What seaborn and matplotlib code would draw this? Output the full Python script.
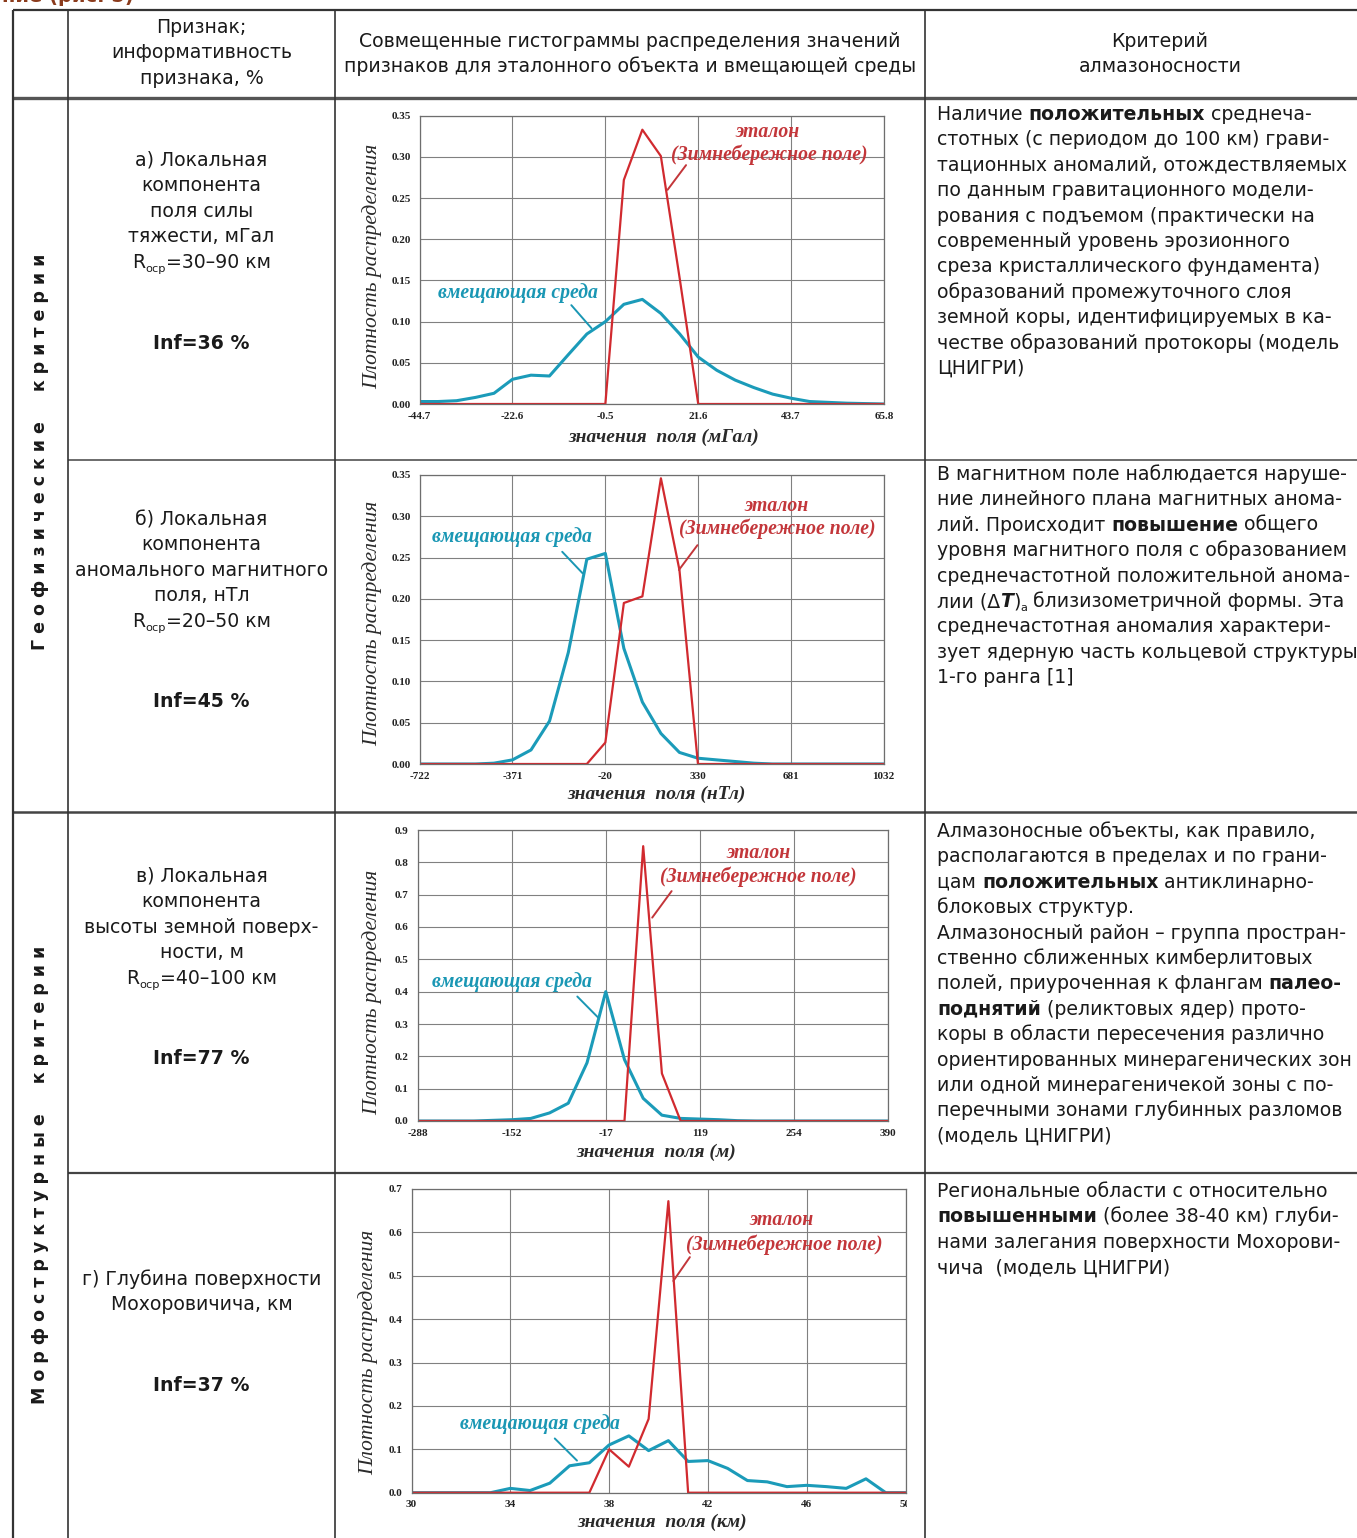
import re
import matplotlib
matplotlib.use('Agg')
import numpy as np
import pandas as pd
import seaborn as sns
import matplotlib.pyplot as plt
from matplotlib.transforms import Bbox

W, H = 1357, 1538
RED = '#d12a2f'
TEAL = '#1b9bb9'
SANS = 'DejaVu Sans'
SERIF = 'Liberation Serif'
FS = 13.6

# ---- data ----
grav_x = [-44.7, -40.3, -35.9, -31.4, -27.0, -22.6, -18.2, -13.8, -9.3, -4.9, -0.5, 3.9, 8.3,
          12.7, 17.2, 21.6, 26.0, 30.4, 34.8, 39.3, 43.7, 48.1, 52.5, 56.9, 61.4, 65.8]
grav_host = [0.003, 0.003, 0.004, 0.008, 0.013, 0.030, 0.035, 0.034, 0.060, 0.085, 0.100, 0.121, 0.127,
             0.110, 0.085, 0.057, 0.041, 0.029, 0.020, 0.012, 0.007, 0.003, 0.002, 0.001, 0.0005, 0.0]
grav_ref = [0, 0, 0, 0, 0, 0, 0, 0, 0, 0, 0, 0.272, 0.333,
            0.301, 0.152, 0, 0, 0, 0, 0, 0, 0, 0, 0, 0, 0]
grav_ticks = [-44.7, -22.6, -0.5, 21.6, 43.7, 65.8]

mag_x = [-722, -652, -582, -511, -441, -371, -301, -231, -160, -90, -20, 50, 120,
         190, 260, 330, 400, 471, 541, 611, 681, 751, 822, 892, 962, 1032]
mag_host = [0, 0, 0, 0, 0.001, 0.005, 0.017, 0.052, 0.135, 0.248, 0.255, 0.140, 0.075,
            0.037, 0.014, 0.007, 0.005, 0.003, 0.001, 0, 0, 0, 0, 0, 0, 0]
mag_ref = [0, 0, 0, 0, 0, 0, 0, 0, 0, 0, 0.026, 0.195, 0.203,
           0.346, 0.235, 0, 0, 0, 0, 0, 0, 0, 0, 0, 0, 0]
mag_ticks = [-722, -371, -20, 330, 681, 1032]

hgt_x = [-288, -261, -234, -207, -180, -152, -125, -98, -71, -44, -17, 10, 37,
         64, 91, 119, 146, 173, 200, 227, 254, 281, 309, 336, 363, 390]
hgt_host = [0, 0, 0, 0, 0.002, 0.004, 0.008, 0.025, 0.055, 0.18, 0.40, 0.19, 0.07,
            0.018, 0.008, 0.006, 0.004, 0.001, 0, 0, 0, 0, 0, 0, 0, 0]
hgt_ref = [0, 0, 0, 0, 0, 0, 0, 0, 0, 0, 0, 0, 0.85,
           0.147, 0, 0, 0, 0, 0, 0, 0, 0, 0, 0, 0, 0]
hgt_ticks = [-288, -152, -17, 119, 254, 390]

moho_x = [30.0, 30.8, 31.6, 32.4, 33.2, 34.0, 34.8, 35.6, 36.4, 37.2, 38.0, 38.8, 39.6,
          40.4, 41.2, 42.0, 42.8, 43.6, 44.4, 45.2, 46.0, 46.8, 47.6, 48.4, 49.2, 50.0]
moho_host = [0, 0, 0, 0, 0, 0.010, 0.005, 0.022, 0.062, 0.069, 0.110, 0.131, 0.097,
             0.120, 0.072, 0.074, 0.056, 0.028, 0.025, 0.014, 0.017, 0.014, 0.010, 0.032, 0, 0]
moho_ref = [0, 0, 0, 0, 0, 0, 0, 0, 0, 0, 0.100, 0.060, 0.170,
            0.672, 0, 0, 0, 0, 0, 0, 0, 0, 0, 0, 0, 0]
moho_ticks = [30, 34, 38, 42, 46, 50]

# ---- table text ----
head_col2 = ['Признак;', 'информативность', 'признака, %']
head_col3 = ['Совмещенные гистограммы распределения значений',
             'признаков для эталонного объекта и вмещающей среды']
head_col4 = ['Критерий', 'алмазоносности']

feat_a = ['а) Локальная', 'компонента', 'поля силы', 'тяжести, мГал', 'R_{оср}=30–90 км']
feat_b = ['б) Локальная', 'компонента', 'аномального магнитного', 'поля, нТл', 'R_{оср}=20–50 км']
feat_c = ['в) Локальная', 'компонента', 'высоты земной поверх-', 'ности, м', 'R_{оср}=40–100 км']
feat_d = ['г) Глубина поверхности', 'Мохоровичича, км']
inf_values = ['Inf=36 %', 'Inf=45 %', 'Inf=77 %', 'Inf=37 %']

crit_a = ['Наличие **положительных** среднеча-',
          'стотных (с периодом до 100 км) грави-',
          'тационных аномалий, отождествляемых',
          'по данным гравитационного модели-',
          'рования с подъемом (практически на',
          'современный уровень эрозионного',
          'среза кристаллического фундамента)',
          'образований промежуточного слоя',
          'земной коры, идентифицируемых в ка-',
          'честве образований протокоры (модель',
          'ЦНИГРИ)']
crit_b = ['В магнитном поле наблюдается наруше-',
          'ние линейного плана магнитных анома-',
          'лий. Происходит **повышение** общего',
          'уровня магнитного поля с образованием',
          'среднечастотной положительной анома-',
          'лии (Δ__T__)_{а} близизометричной формы. Эта',
          'среднечастотная аномалия характери-',
          'зует ядерную часть кольцевой структуры',
          '1-го ранга [1]']
crit_c = ['Алмазоносные объекты, как правило,',
          'располагаются в пределах и по грани-',
          'цам **положительных** антиклинарно-',
          'блоковых структур.',
          'Алмазоносный район – группа простран-',
          'ственно сближенных кимберлитовых',
          'полей, приуроченная к флангам **палео-**',
          '**поднятий** (реликтовых ядер) прото-',
          'коры в области пересечения различно',
          'ориентированных минерагенических зон',
          'или одной минерагеничекой зоны с по-',
          'перечными зонами глубинных разломов',
          '(модель ЦНИГРИ)']
crit_d = ['Региональные области с относительно',
          '**повышенными** (более 38-40 км) глуби-',
          'нами залегания поверхности Мохорови-',
          'чича  (модель ЦНИГРИ)']

group_geo = 'Г е о ф и з и ч е с к и е     к р и т е р и и'
group_morph = 'М о р ф о с т р у к т у р н ы е     к р и т е р и и'

sns.set_theme(style='white')
plt.rcParams['font.family'] = [SANS]

fig = plt.figure(figsize=(W / 100, H / 100), dpi=100)
fig.patch.set_facecolor('white')
base = fig.add_axes([0, 0, 1, 1])
base.set_xlim(0, W)
base.set_ylim(H, 0)
base.axis('off')
renderer = fig.canvas.get_renderer()

TOKEN = re.compile(r'(\*\*.+?\*\*|__.+?__|_\{.+?\})')


def parse(line):
    parts = []
    for tok in TOKEN.split(line):
        if not tok:
            continue
        if tok.startswith('**'):
            parts.append((tok[2:-2], 'b'))
        elif tok.startswith('__'):
            parts.append((tok[2:-2], 'bi'))
        elif tok.startswith('_{'):
            parts.append((tok[2:-1], 's'))
        else:
            parts.append((tok, 'n'))
    return parts


_wcache = {}


def seg_width(s, size, weight, style):
    key = (s, size, weight, style)
    if key not in _wcache:
        kw = dict(fontsize=size, fontweight=weight, fontstyle=style, family=SANS)
        t1 = base.text(0, 0, '|' + s + '|', **kw)
        t0 = base.text(0, 0, '||', **kw)
        _wcache[key] = t1.get_window_extent(renderer).width - t0.get_window_extent(renderer).width
        t1.remove()
        t0.remove()
    return _wcache[key]


def rich(x, y, line, ha='left', size=FS):
    pieces = []
    for s, k in parse(line):
        weight = 'bold' if k in ('b', 'bi') else 'normal'
        style = 'italic' if k == 'bi' else 'normal'
        sz = size * 0.6 if k == 's' else size
        dy = 4 if k == 's' else 0
        pieces.append((s, sz, weight, style, dy, seg_width(s, sz, weight, style)))
    total = sum(p[-1] for p in pieces)
    cx = x - total / 2 if ha == 'center' else x
    for s, sz, weight, style, dy, w in pieces:
        base.text(cx, y + 6 + dy, s, fontsize=sz, fontweight=weight, fontstyle=style,
                  family=SANS, ha='left', va='baseline', color='#1a1a1a')
        cx += w


def block(x, y0, lines, ha='left', step=25.4):
    for i, ln in enumerate(lines):
        rich(x, y0 + i * step, ln, ha=ha)


# ---- table grid ----
def hline(y, x0, x1, lw, c='#333333'):
    base.plot([x0, x1], [y, y], color=c, lw=lw, solid_capstyle='butt')


def vline(x, y0, y1, lw, c='#333333'):
    base.plot([x, x], [y0, y1], color=c, lw=lw, solid_capstyle='butt')


hline(10, 13, W, 1.6)
hline(97.5, 13, W, 2.4, '#555555')
hline(460, 68, W, 1.1, '#444444')
hline(812, 13, W, 1.8, '#444444')
hline(1173, 68, W, 1.6, '#444444')
vline(13, 10, H, 1.6)
vline(68, 10, H, 1.2)
vline(335, 10, H, 1.2)
vline(925, 10, H, 1.2)

base.text(2, -4, 'ние (рис. 5)', color='#8b3b1c', fontsize=14, fontweight='bold', va='center')

# ---- header ----
block(201.5, 27, head_col2, ha='center')
block(630, 41, head_col3, ha='center')
block(1160, 41, head_col4, ha='center')

# ---- group labels ----
base.text(40, 452, group_geo, rotation=90, ha='center', va='center', fontsize=12.5,
          fontweight='bold', color='#1a1a1a')
base.text(40, 1175, group_morph, rotation=90, ha='center', va='center', fontsize=12.5,
          fontweight='bold', color='#1a1a1a')

# ---- feature column ----
block(201.5, 160, feat_a, ha='center')
block(201.5, 519, feat_b, ha='center')
block(201.5, 876, feat_c, ha='center')
block(201.5, 1279, feat_d, ha='center')
for yy, s in zip([343, 701, 1058, 1385], inf_values):
    rich(201.5, yy, '**' + s + '**', ha='center')

# ---- criterion column ----
block(937, 114, crit_a)
block(937, 474, crit_b)
block(937, 831, crit_c)
block(937, 1191, crit_d)


# ---- charts ----
def px_axes(rect):
    x0, y0, x1, y1 = rect
    return fig.add_axes([x0 / W, 1 - y1 / H, (x1 - x0) / W, (y1 - y0) / H])


def chart(rect, xs, host, ref, xticks, ymax, ystep, yfmt, unit, ann, ylab_px, xlab_px, clip_right=None):
    ax = px_axes(rect)
    df = pd.DataFrame({'x': xs * 2, 'density': host + ref,
                       'series': ['host'] * len(xs) + ['ref'] * len(xs)})
    sns.lineplot(data=df[df.series == 'host'], x='x', y='density', ax=ax, color=TEAL, lw=2.2,
                 estimator=None, sort=False)
    sns.lineplot(data=df[df.series == 'ref'], x='x', y='density', ax=ax, color=RED, lw=1.6,
                 estimator=None, sort=False)
    ax.set_xlim(xticks[0], xticks[-1])
    ax.set_ylim(0, ymax)
    ax.set_xticks(xticks)
    ax.set_xticklabels([str(t) for t in xticks], fontfamily=SERIF, fontweight='bold', fontsize=8,
                       color='#222222')
    yt = np.round(np.arange(0, ymax + ystep / 2, ystep), 3)
    ax.set_yticks(yt)
    ax.set_yticklabels([yfmt % v for v in yt], fontfamily=SERIF, fontweight='bold', fontsize=8,
                       color='#222222')
    ax.tick_params(axis='x', length=0, pad=5.5)
    ax.tick_params(axis='y', length=0, pad=6.5)
    ax.grid(True, color='#808080', lw=0.8)
    for sp in ax.spines.values():
        sp.set_color('#6e6e6e')
        sp.set_linewidth(0.9)
    ax.set_facecolor('white')

    x0, y0, x1, y1 = rect
    ax.set_xlabel('значения  поля (' + unit + ')', fontfamily=SERIF, fontstyle='italic',
                  fontweight='bold', fontsize=14, color='#2a2a2a')
    ax.xaxis.label.set_va('center')
    ax.xaxis.set_label_coords((xlab_px[0] - x0) / (x1 - x0), (y1 - xlab_px[1]) / (y1 - y0))
    ax.set_ylabel('Плотность распределения', fontfamily=SERIF, fontstyle='italic',
                  fontsize=15.5, color='#2a2a2a')
    ax.yaxis.label.set_va('center')
    ax.yaxis.set_label_coords((ylab_px[0] - x0) / (x1 - x0), (y1 - ylab_px[1]) / (y1 - y0))

    tkw = dict(fontfamily=SERIF, fontstyle='italic', fontweight='bold', fontsize=14.2,
               ha='center', va='center')
    ax.text(*ann['ref1'], 'эталон', color='#c3363a', **tkw)
    ax.text(*ann['ref2'], '(Зимнебережное поле)', color='#c3363a', **tkw)
    ax.annotate('', xy=ann['ref_lead'][1], xytext=ann['ref_lead'][0],
                arrowprops=dict(arrowstyle='-', color='#c3363a', lw=1.4, shrinkA=0, shrinkB=0))
    ax.text(*ann['host'], 'вмещающая среда', color='#1a97b4', **tkw)
    ax.annotate('', xy=ann['host_lead'][1], xytext=ann['host_lead'][0],
                arrowprops=dict(arrowstyle='-', color='#1a97b4', lw=1.4, shrinkA=0, shrinkB=0))

    if clip_right is not None:
        for lab in ax.get_xticklabels():
            lab.set_clip_on(True)
            lab.set_clip_box(Bbox.from_extents(0, 0, clip_right, H))
    return ax


chart((419.6, 115.7, 884.0, 404.0), grav_x, grav_host, grav_ref, grav_ticks, 0.35, 0.05, '%.2f', 'мГал',
      dict(ref1=(38.1, 0.330), ref2=(38.5, 0.302), ref_lead=((18.7, 0.290), (14.3, 0.260)),
           host=(-21.4, 0.135), host_lead=((-8.6, 0.120), (-3.8, 0.092))),
      (372.6, 266.7), (664, 437))

chart((419.6, 475.0, 883.7, 764.0), mag_x, mag_host, mag_ref, mag_ticks, 0.35, 0.05, '%.2f', 'нТл',
      dict(ref1=(629, 0.312), ref2=(629, 0.285), ref_lead=((328, 0.265), (258, 0.235)),
           host=(-372, 0.275), host_lead=((-183, 0.257), (-106, 0.231))),
      (372.6, 623), (656.7, 794))

chart((417.8, 830.0, 888.0, 1121.0), hgt_x, hgt_host, hgt_ref, hgt_ticks, 0.9, 0.1, '%.1f', 'м',
      dict(ref1=(203, 0.828), ref2=(203, 0.756), ref_lead=((78, 0.711), (50, 0.629)),
           host=(-152, 0.429), host_lead=((-58, 0.385), (-28, 0.32))),
      (372.6, 992), (656.7, 1152))

chart((411.5, 1189.0, 905.5, 1492.7), moho_x, moho_host, moho_ref, moho_ticks, 0.7, 0.1, '%.1f', 'км',
      dict(ref1=(45.0, 0.629), ref2=(45.1, 0.571), ref_lead=((41.27, 0.543), (40.6, 0.488)),
           host=(35.2, 0.158), host_lead=((35.8, 0.125), (36.7, 0.074))),
      (367.8, 1352), (662, 1522), clip_right=907)

fig.savefig('out.png', dpi=100, facecolor='white')
